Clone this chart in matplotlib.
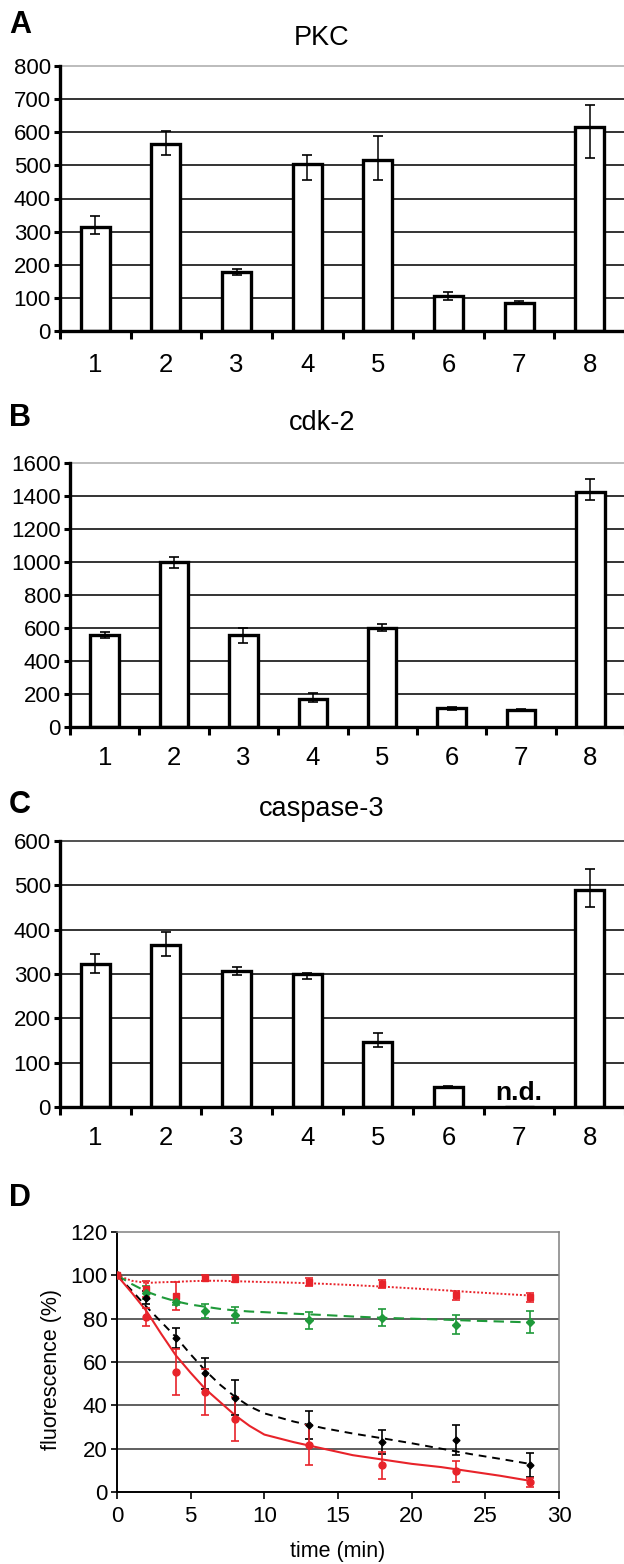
import numpy as np
import matplotlib
matplotlib.use("Agg")
import matplotlib.pyplot as plt

plt.rcParams['font.family'] = ['Liberation Sans', 'DejaVu Sans']

# ---------------- data ----------------
lanes = [1, 2, 3, 4, 5, 6, 7, 8]
lane_labels = ['1', '2', '3', '4', '5', '6', '7', '8']

pkc_val = [315, 564, 179, 505, 515, 106, 86, 617]
pkc_hi = [348, 604, 188, 531, 589, 118, 92, 681]
pkc_lo = [294, 530, 169, 456, 456, 93, 81, 523]

cdk_val = [558, 997, 558, 172, 598, 114, 101, 1424]
cdk_hi = [573, 1032, 603, 206, 623, 121, 107, 1505]
cdk_lo = [542, 963, 508, 153, 583, 106, 94, 1373]

casp_val = [323, 365, 307, 299, 147, 44, np.nan, 490]
casp_hi = [344, 394, 315, 302, 166, 48, np.nan, 537]
casp_lo = [302, 340, 298, 288, 135, 42, np.nan, 452]

time_pts = [0, 2, 4, 6, 8, 13, 18, 23, 28]
red_sq = [100, 93.7, 90.4, 98.8, 98.5, 96.9, 96.0, 90.8, 89.8]
red_sq_err = [0, 3.5, 6.6, 1.5, 1.5, 2.0, 2.0, 2.2, 2.2]
red_ci = [100, 80.7, 55.4, 46.2, 33.7, 21.7, 12.3, 9.5, 4.5]
red_ci_err = [0, 4.3, 10.6, 10.5, 10.0, 9.2, 6.1, 4.9, 2.0]
black_d = [100, 89.6, 71.0, 54.7, 43.6, 30.9, 23.0, 24.0, 12.6]
black_d_err = [0, 3.0, 4.5, 7.0, 8.0, 6.3, 5.5, 7.0, 5.5]
green_d = [100, 92.0, 87.6, 83.5, 81.8, 79.2, 80.4, 77.2, 78.4]
green_d_err = [0, 3.0, 1.2, 3.3, 3.7, 3.8, 4.0, 4.5, 5.0]

curve_t = [0, 1, 2, 3, 4, 5, 6, 7, 8, 9, 10, 12, 14, 16, 18, 20, 22, 24, 26, 28]
red_solid_fit = [100, 92, 83.5, 73, 63, 55, 47.5, 41.5, 35.5, 30.5, 26.5, 23, 20, 17,
                 15, 13, 11.5, 9.5, 7.5, 5.2]
black_fit = [100, 93, 85.5, 78.5, 71.5, 63.5, 56, 49.5, 44, 39.5, 36.3, 32.5, 29.5, 27,
             24.8, 22.5, 20, 17.5, 15.3, 13]
green_fit = [100, 96, 92.5, 90, 88, 86.5, 85.5, 84.5, 83.8, 83.3, 83, 82.3, 81.7, 81,
             80.4, 80, 79.6, 79.1, 78.7, 78.3]
red_dot_fit = [100, 97.5, 96.5, 96.8, 97, 97.3, 97.5, 97.5, 97.3, 97.1, 96.9, 96.6,
               96.1, 95.5, 94.8, 94, 93.2, 92.3, 91.5, 90.7]

# ---------------- figure ----------------
W, H = 624, 1564
fig = plt.figure(figsize=(W / 100, H / 100), dpi=100)
fig.patch.set_facecolor('white')


def px_axes(l, t, r, b):
    return fig.add_axes([l / W, 1 - b / H, (r - l) / W, (b - t) / H])


def bar_panel(l, t, r, b, vals, lo, hi, ymax, ystep, top_grid_color, xpad):
    ax = px_axes(l, t, r, b)
    v = np.array(vals, dtype=float)
    err = [v - np.array(lo, dtype=float), np.array(hi, dtype=float) - v]
    ax.bar(lanes, np.nan_to_num(v), width=0.41, color='white', edgecolor='black',
           linewidth=2.4, zorder=3)
    ax.errorbar(lanes, v, yerr=err, fmt='none', ecolor='black', elinewidth=1.1,
                capsize=3.3, capthick=1.2, zorder=4)
    ax.set_xlim(0.5, 8.5)
    ax.set_ylim(0, ymax)
    ax.set_yticks(np.arange(0, ymax + 1, ystep))
    ax.set_xticks(lanes)
    ax.set_xticklabels(lane_labels)
    ax.set_xticks(np.arange(0.5, 8.6, 1.0), minor=True)
    ax.tick_params(axis='x', which='major', length=0, labelsize=18.5, pad=xpad)
    ax.tick_params(axis='x', which='minor', length=5.5, width=2.2, direction='out')
    ax.tick_params(axis='y', length=4, width=2.2, direction='out', labelsize=16, pad=2.5)
    ax.yaxis.grid(True, color='#333333', linewidth=1.4, zorder=0)
    ax.set_axisbelow(True)
    for s in ['left', 'bottom']:
        ax.spines[s].set_linewidth(2.4)
        ax.spines[s].set_zorder(5)
    ax.spines['right'].set_visible(False)
    ax.spines['top'].set_color(top_grid_color)
    ax.spines['top'].set_linewidth(1.2)
    gl = ax.get_ygridlines()
    gl[-1].set_visible(False)
    return ax


# Panel A
axA = bar_panel(60, 66, 625, 331, pkc_val, pkc_lo, pkc_hi, 800, 100, '#b0b0b0', 16)
fig.text(9 / W, 1 - 25 / H, 'A', fontsize=22, fontweight='bold', ha='left', va='center')
fig.text(322 / W, 1 - 38 / H, 'PKC', fontsize=19.5, ha='center', va='center')

# Panel B
axB = bar_panel(70, 463, 625, 727, cdk_val, cdk_lo, cdk_hi, 1600, 200, '#b0b0b0', 14)
fig.text(9 / W, 1 - 418 / H, 'B', fontsize=22, fontweight='bold', ha='left', va='center')
fig.text(322 / W, 1 - 423 / H, 'cdk-2', fontsize=19.5, ha='center', va='center')

# Panel C
axC = bar_panel(60, 841, 625, 1107, casp_val, casp_lo, casp_hi, 600, 100, '#333333', 14)
fig.text(9 / W, 1 - 805 / H, 'C', fontsize=22, fontweight='bold', ha='left', va='center')
fig.text(322 / W, 1 - 809 / H, 'caspase-3', fontsize=19.5, ha='center', va='center')
axC.text(7, 5, 'n.d.', fontsize=19, fontweight='bold', ha='center', va='bottom', zorder=6)

# Panel D
axD = px_axes(117, 1232, 559, 1492)
fig.text(9 / W, 1 - 1198 / H, 'D', fontsize=22, fontweight='bold', ha='left', va='center')

axD.plot(curve_t, red_dot_fit, color='#e8232a', linestyle=(0, (1, 1)), linewidth=1.4, zorder=2)
axD.plot(curve_t, green_fit, color='#1f9a3a', linestyle=(0, (5, 3)), linewidth=1.5, zorder=2)
axD.plot(curve_t, black_fit, color='black', linestyle=(0, (4, 3)), linewidth=1.4, zorder=2)
axD.plot(curve_t, red_solid_fit, color='#e8232a', linestyle='-', linewidth=1.5, zorder=2)

axD.errorbar(time_pts, red_sq, yerr=red_sq_err, fmt='s', color='#e8232a', markersize=5,
             elinewidth=1.2, capsize=3, capthick=1.2, zorder=3)
axD.errorbar(time_pts, green_d, yerr=green_d_err, fmt='D', color='#1f9a3a', markersize=3.8,
             elinewidth=1.2, capsize=3, capthick=1.2, zorder=3)
axD.errorbar(time_pts, black_d, yerr=black_d_err, fmt='D', color='black', markersize=3.5,
             elinewidth=1.2, capsize=3, capthick=1.2, zorder=3)
axD.errorbar(time_pts, red_ci, yerr=red_ci_err, fmt='o', color='#e8232a', markersize=5,
             elinewidth=1.2, capsize=3, capthick=1.2, zorder=3)

axD.set_xlim(0, 30)
axD.set_ylim(0, 120)
axD.set_xticks(np.arange(0, 31, 5))
axD.set_yticks(np.arange(0, 121, 20))
axD.tick_params(axis='both', direction='out', labelsize=16, width=1.2)
axD.tick_params(axis='x', length=5, pad=5)
axD.tick_params(axis='y', length=4, pad=3)
axD.yaxis.grid(True, color='#444444', linewidth=1.2)
axD.set_axisbelow(True)
for s in ['left', 'bottom']:
    axD.spines[s].set_linewidth(1.4)
    axD.spines[s].set_color('black')
for s in ['top', 'right']:
    axD.spines[s].set_linewidth(1.1)
    axD.spines[s].set_color('#808080')
glD = axD.get_ygridlines()
glD[-1].set_visible(False)
glD[0].set_visible(False)

fig.text(52 / W, 1 - 1370 / H, 'fluorescence (%)', fontsize=15.5, rotation=90,
         ha='center', va='center')
fig.text(338 / W, 1 - 1552 / H, 'time (min)', fontsize=15.5, ha='center', va='center')

fig.savefig('out.png', dpi=100, facecolor='white')
